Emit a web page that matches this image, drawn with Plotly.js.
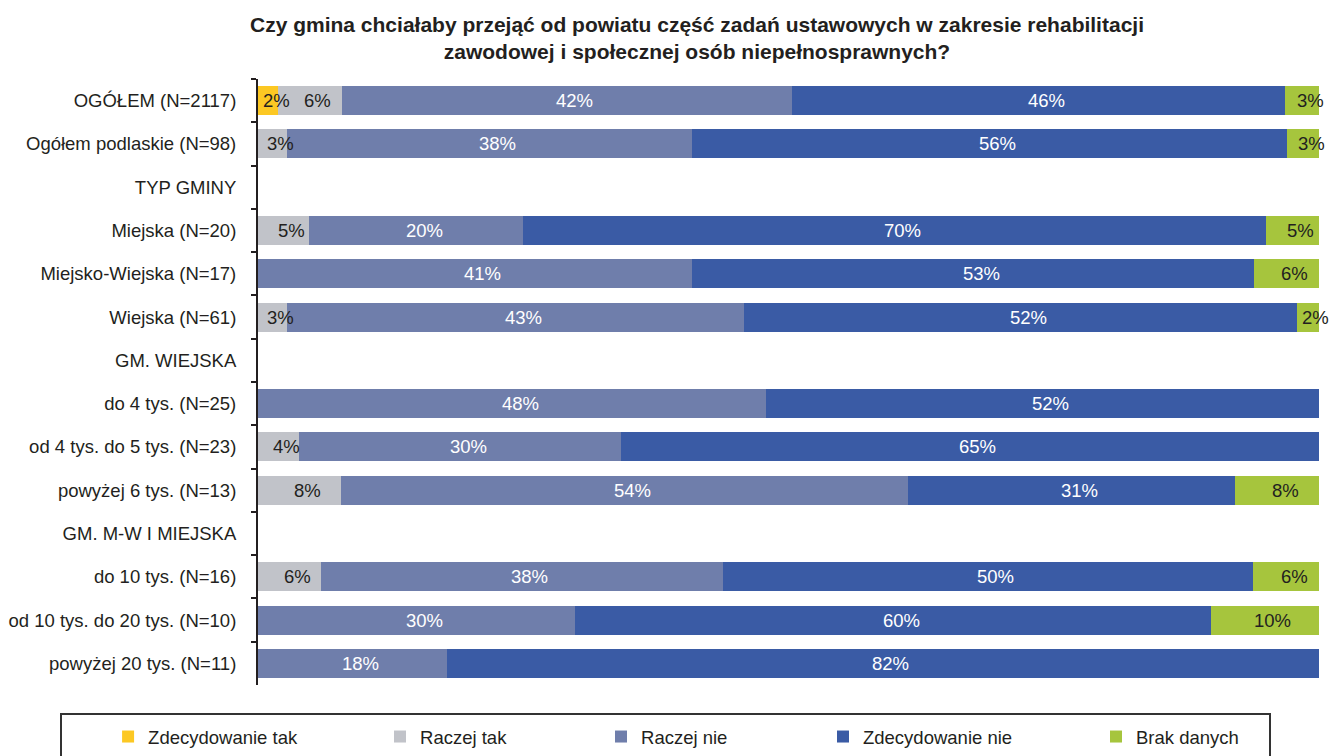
<!DOCTYPE html>
<html>
<head>
<meta charset="utf-8">
<script src="https://cdn.plot.ly/plotly-3.0.1.min.js"></script>
<style>html,body{margin:0;padding:0;background:#fff;}#chart{width:1339px;height:756px;}</style>
</head>
<body>
<div id="chart"></div>
<script>
const categories = [
  "OGÓŁEM (N=2117)", "Ogółem podlaskie (N=98)", "TYP GMINY", "Miejska (N=20)",
  "Miejsko-Wiejska (N=17)", "Wiejska (N=61)", "GM. WIEJSKA", "do 4 tys. (N=25)",
  "od 4 tys. do 5 tys. (N=23)", "powyżej 6 tys. (N=13)", "GM. M-W I MIEJSKA",
  "do 10 tys. (N=16)", "od 10 tys. do 20 tys. (N=10)", "powyżej 20 tys. (N=11)"
];
const seriesNames = ["Zdecydowanie tak", "Raczej tak", "Raczej nie", "Zdecydowanie nie", "Brak danych"];

// values (share of bar, %)
const zdecydowanieTak = [1.9, 0, null, 0, 0, 0, null, 0, 0, 0, null, 0, 0, 0];
const raczejTak       = [6.0, 2.7, null, 4.8, 0, 2.7, null, 0, 3.9, 7.8, null, 5.9, 0, 0];
const raczejNie       = [42.4, 38.2, null, 20.2, 40.9, 43.1, null, 47.9, 30.3, 53.5, null, 37.9, 29.9, 17.8];
const zdecydowanieNie = [46.5, 56.1, null, 70.0, 53.0, 52.1, null, 52.1, 65.8, 30.8, null, 50.0, 59.9, 82.2];
const brakDanych      = [3.2, 3.0, null, 5.0, 6.1, 2.1, null, 0, 0, 7.9, null, 6.2, 10.2, 0];

// printed labels
const lblZdecydowanieTak = ["2%", "", "", "", "", "", "", "", "", "", "", "", "", ""];
const lblRaczejTak       = ["6%", "3%", "", "5%", "", "3%", "", "", "4%", "8%", "", "6%", "", ""];
const lblRaczejNie       = ["42%", "38%", "", "20%", "41%", "43%", "", "48%", "30%", "54%", "", "38%", "30%", "18%"];
const lblZdecydowanieNie = ["46%", "56%", "", "70%", "53%", "52%", "", "52%", "65%", "31%", "", "50%", "60%", "82%"];
const lblBrakDanych      = ["3%", "3%", "", "5%", "6%", "2%", "", "", "", "8%", "", "6%", "10%", ""];

const values = [zdecydowanieTak, raczejTak, raczejNie, zdecydowanieNie, brakDanych];
const labels = [lblZdecydowanieTak, lblRaczejTak, lblRaczejNie, lblZdecydowanieNie, lblBrakDanych];
const colors = ["#FCC823", "#C1C3C9", "#6F7EAB", "#3A5BA5", "#A6C53D"];
const textColors = ["#231F20", "#231F20", "#FFFFFF", "#FFFFFF", "#231F20"];
const legendX = [-0.1413, 0.1150, 0.3233, 0.5325, 0.7898];
const legendIds = ["legend", "legend2", "legend3", "legend4", "legend5"];

const FONT = '"Liberation Sans", Arial, Helvetica, sans-serif';

const traces = values.map((v, i) => ({
  type: "bar",
  orientation: "h",
  name: seriesNames[i],
  y: categories,
  x: v,
  marker: {color: colors[i], line: {width: 0}},
  legend: legendIds[i],
  hoverinfo: "skip"
}));

// label annotations at the centre of each segment
const annotations = [];
categories.forEach((cat, r) => {
  let cum = 0;
  values.forEach((v, s) => {
    const val = v[r];
    if (val == null) return;
    const t = labels[s][r];
    if (t) {
      annotations.push({
        x: cum + val / 2, y: cat, xref: "x", yref: "y",
        text: t, showarrow: false, xshift: 8,
        font: {family: FONT, size: 18.5, color: textColors[s]}
      });
    }
    cum += val;
  });
});

const layout = {
  width: 1339, height: 756,
  margin: {l: 258, r: 20, t: 79, b: 71, autoexpand: false},
  paper_bgcolor: "#fff", plot_bgcolor: "#fff",
  font: {family: FONT, size: 18.5, color: "#231F20"},
  title: {
    text: "Czy gmina chciałaby przejąć od powiatu część zadań ustawowych w zakresie rehabilitacji<br>zawodowej i społecznej osób niepełnosprawnych?",
    font: {family: FONT, size: 21, color: "#231F20", weight: "bold"},
    x: 697 / 1339, xref: "container", xanchor: "center",
    y: 1 - 32 / 756, yref: "container", yanchor: "top"
  },
  barmode: "stack",
  bargap: 0.33,
  xaxis: {range: [0, 100], visible: false, fixedrange: true},
  yaxis: {
    type: "category", autorange: "reversed",
    showline: true, linecolor: "#231F20", linewidth: 2,
    ticks: "outside", tickson: "boundaries", ticklen: 5, tickwidth: 2, tickcolor: "#231F20",
    ticklabelstandoff: 16,
    tickfont: {family: FONT, size: 18.5, color: "#231F20"},
    showgrid: false, zeroline: false, fixedrange: true
  },
  annotations: annotations,
  shapes: [{
    type: "rect", xref: "paper", yref: "paper",
    x0: (61 - 258) / 1061, x1: (1270 - 258) / 1061,
    y0: (685 - 714) / 606, y1: (685 - 780) / 606,
    line: {color: "#333333", width: 2}, fillcolor: "rgba(0,0,0,0)"
  }],
  showlegend: true
};
legendIds.forEach((id, i) => {
  layout[id] = {
    orientation: "h", x: legendX[i], xanchor: "left",
    y: (685 - 737) / 606, yanchor: "middle",
    bgcolor: "rgba(0,0,0,0)", borderwidth: 0,
    font: {family: FONT, size: 18.5, color: "#231F20"}
  };
});

Plotly.newPlot("chart", traces, layout, {displayModeBar: false, staticPlot: true});
</script>
</body>
</html>
